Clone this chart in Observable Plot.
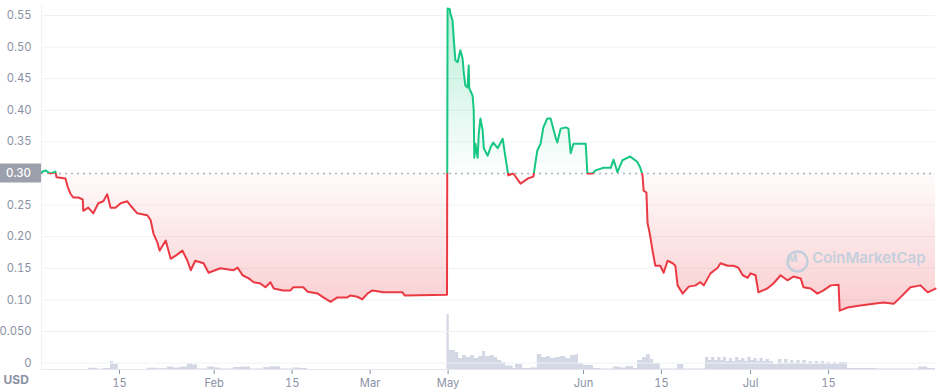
<!DOCTYPE html>
<html><head><meta charset="utf-8">
<script src="https://cdn.jsdelivr.net/npm/d3@7"></script>
<script src="https://cdn.jsdelivr.net/npm/@observablehq/plot@0.6"></script>
<style>
html,body{margin:0;padding:0;background:#fff;}
#wrap{position:relative;width:940px;height:392px;font-family:Inter,"Noto Sans",sans-serif;background:#fff;}
#wrap svg{position:absolute;left:0;top:0;}
</style></head><body><div id="wrap"></div>
<script>
// x positions are chart-day positions (Jan 1 = 0) as laid out on the source axis
const xTickDays = [14, 31, 45, 59, 73, 97.3, 111.3, 127.3, 141.3];
const xTickLabels = ["15", "Feb", "15", "Mar", "May", "Jun", "15", "Jul", "15"];
const yTicks = [0, 0.05, 0.1, 0.15, 0.2, 0.25, 0.3, 0.35, 0.4, 0.45, 0.5, 0.55];
const yTickLabels = ["0", "0.050", "0.10", "0.15", "0.20", "0.25", "0.30", "0.35", "0.40", "0.45", "0.50", "0.55"];
const openPrice = 0.30;
const currency = "USD";
const watermark = "CoinMarketCap";

// [day, price USD]
const priceSeries = [
[0,0.302],[0.7,0.305],[1.6,0.300],[2.5,0.303],[2.7,0.294],[4.3,0.292],[4.7,0.279],[5.2,0.268],[5.7,0.262],[6.6,0.262],
[7.4,0.259],[7.5,0.241],[8.4,0.246],[9.3,0.237],[10.2,0.253],[11.1,0.256],[11.8,0.267],[12.4,0.246],[13.3,0.246],[14.2,0.253],
[15.4,0.256],[16.0,0.249],[17.2,0.237],[19.0,0.234],[19.6,0.226],[20.1,0.205],[20.8,0.191],[21.2,0.178],[22.3,0.194],[23.2,0.165],
[24.1,0.170],[25.3,0.178],[26.2,0.162],[26.8,0.147],[27.6,0.162],[29.1,0.158],[30.0,0.143],[32.1,0.150],[34.5,0.147],[35.2,0.151],
[36.1,0.139],[37.2,0.134],[38.1,0.128],[39.3,0.126],[40.2,0.120],[41.1,0.128],[41.7,0.118],[43.4,0.115],[44.7,0.115],[45.2,0.120],
[47.0,0.120],[47.8,0.113],[49.6,0.110],[50.6,0.104],[51.9,0.097],[53.1,0.104],[54.9,0.104],[55.5,0.107],[56.7,0.105],[57.6,0.101],
[58.5,0.110],[59.4,0.115],[61.4,0.112],[64.8,0.112],[65.2,0.107],[72.8,0.108],[72.9,0.561],[73.3,0.560],[73.4,0.553],[73.8,0.542],
[74.0,0.515],[74.3,0.479],[74.7,0.476],[75.2,0.495],[75.6,0.482],[75.8,0.460],[76.1,0.439],[76.5,0.436],[76.7,0.471],[76.8,0.435],
[77.4,0.423],[77.6,0.400],[77.7,0.325],[77.9,0.347],[78.3,0.325],[78.5,0.363],[78.8,0.387],[79.2,0.368],[79.4,0.340],[80.1,0.328],
[80.6,0.341],[81.1,0.349],[81.9,0.340],[82.8,0.355],[83.3,0.325],[83.8,0.297],[84.7,0.300],[86.0,0.284],[87.3,0.292],[88.3,0.295],
[89.0,0.336],[89.6,0.347],[90.1,0.373],[90.8,0.387],[91.4,0.387],[92.3,0.357],[92.6,0.349],[93.2,0.371],[94.1,0.373],[94.6,0.371],
[95.0,0.332],[95.5,0.347],[96.8,0.347],[97.7,0.347],[98.0,0.300],[98.9,0.300],[99.5,0.305],[100.9,0.309],[102.2,0.309],[102.7,0.322],
[103.4,0.302],[104.3,0.321],[105.7,0.327],[107.0,0.318],[107.5,0.309],[107.9,0.297],[108.1,0.273],[108.6,0.270],[108.8,0.222],[109.2,0.205],
[109.7,0.178],[110.2,0.154],[111.1,0.154],[111.7,0.143],[112.4,0.162],[113.3,0.158],[113.8,0.154],[114.2,0.123],[115.1,0.110],[116.2,0.121],
[117.4,0.123],[118.3,0.128],[118.9,0.123],[120.1,0.142],[121.4,0.151],[121.9,0.158],[123.2,0.154],[124.2,0.154],[125.1,0.151],[125.9,0.139],
[126.8,0.135],[127.3,0.142],[128.2,0.139],[128.7,0.112],[130.3,0.118],[131.4,0.126],[132.7,0.139],[133.9,0.131],[135.0,0.137],[136.3,0.134],
[136.8,0.120],[138.1,0.118],[139.3,0.110],[140.4,0.115],[141.7,0.123],[143.1,0.124],[143.3,0.083],[144.7,0.088],[147.0,0.091],[149.4,0.094],
[151.2,0.096],[153.0,0.094],[154.2,0.104],[156.0,0.120],[157.8,0.123],[159.1,0.112],[160.5,0.118]
];

// [day, volume (relative units)]
const volumeSeries = [
[0,0],[8.4,1.3],[10.1,0.3],[11.0,1],[12.4,8],[12.9,5.5],[13.8,0],
[19.0,1.2],[20.8,0.8],[22.6,2.5],[23.7,1.5],[25.0,2.5],[26.2,5.7],[27.1,4.5],[28.0,0.5],[29.8,2.5],[31.1,1.5],[32.1,0.5],
[34.5,2],[35.7,2.5],[37.5,0.5],[39.9,2],[41.1,2.7],[42.9,0.5],[45.2,1.5],[46.5,1],[47.8,0],
[72.8,55],[73.2,19],[74.3,17],[74.9,11],[75.6,14],[76.3,12],[77.0,14],[77.7,11],[78.5,13],[79.2,18],[79.7,13],[80.6,14],
[81.3,12],[81.9,9],[82.6,7],[83.3,3.5],[84.7,1],[85.1,5],[86.4,1],[87.8,1.5],
[89.0,15],[89.8,12],[90.7,13],[91.4,11],[92.3,12],[93.2,13],[94.1,11],[95.0,14],[95.9,15],[96.4,6],[97.3,4],[99.1,1],
[100.4,0.5],[102.7,2.5],[103.9,1.5],[105.0,3],[106.3,1],[107.0,9],[107.9,12],[108.6,15],[109.3,10],[109.9,6],[111.1,0.5],
[114.2,5],[115.3,0.5],
[119.2,12],[119.8,9],[120.3,12],[120.9,9],[121.4,12],[122.0,9],[122.4,12],[123.0,8],[123.5,11],[124.1,8],[124.6,12],[125.2,9],
[125.7,11],[126.3,8],[126.8,12],[127.4,9],[127.9,11],[128.5,8],[129.0,11],[129.6,8],[130.1,10],[130.7,8],
[131.4,5],[132.3,10],[132.9,6],[133.4,10],[134.0,6],[134.5,9],[135.1,6],[135.6,9],[136.2,6],[136.7,9],[137.3,5],[137.8,8],
[138.4,5],[138.9,8],[139.5,5],[140.0,8],[140.6,5],[141.1,7],[141.7,5],[142.2,7],[142.8,5],[143.3,7],[144.0,7],
[144.7,1],[150.0,0.5],[154.2,0.5],[157.5,2.5],[159.1,1],[160.5,1]
];

const W = 940, H = 392;
const M = {top: 5, right: 5, bottom: 23, left: 41};
const xDomain = [0, 160.5];
const priceDomain = [-0.0101, 0.5658];
const volDomain = [0, 69];

const GREEN = "#16c784", RED = "#ea3943", GRID = "#eff2f5", AXIS = "#8a91a5";

const price = priceSeries.map(([t, p]) => ({t, p}));
const volume = volumeSeries.map(([t, v]) => ({t, v}));

const wrap = document.getElementById("wrap");

// Volume layer (own y scale), drawn underneath
const volChart = Plot.plot({
  width: W, height: H,
  marginTop: 300, marginBottom: M.bottom, marginLeft: M.left, marginRight: M.right,
  style: {background: "transparent", overflow: "visible"},
  x: {domain: xDomain, axis: null},
  y: {domain: volDomain, axis: null},
  marks: [
    Plot.areaY(volume, {x: "t", y: "v", curve: "step-after", fill: "#d3d8e4"})
  ]
});
wrap.appendChild(volChart);

const priceChart = Plot.plot({
  width: W, height: H,
  marginTop: M.top, marginBottom: M.bottom, marginLeft: M.left, marginRight: M.right,
  style: {background: "transparent", overflow: "visible", fontFamily: "Inter, 'Noto Sans', sans-serif", fontSize: "11.2px", color: AXIS},
  x: {domain: xDomain, ticks: xTickDays, tickFormat: d => xTickLabels[xTickDays.indexOf(d)], tickSize: 5, tickPadding: 5, label: null},
  y: {domain: priceDomain, ticks: yTicks, tickFormat: d => d === openPrice ? "" : yTickLabels[yTicks.indexOf(d)], tickSize: 0, tickPadding: 10, label: null},
  marks: [
    Plot.ruleY(yTicks.filter(d => d !== openPrice), {stroke: GRID}),
    Plot.ruleX([xDomain[0]], {stroke: GRID}),
    Plot.ruleY([priceDomain[0]], {stroke: "#e4e7ee"}),
    Plot.areaY(price, {x: "t", y1: () => openPrice, y2: "p", fill: "url(#cmcArea)"}),
    Plot.ruleY([openPrice], {stroke: "#a9aebb", strokeDasharray: "2,4", strokeWidth: 1.3}),
    Plot.line(price, {x: "t", y: "p", stroke: "url(#cmcLine)", strokeWidth: 2}),
    Plot.text([currency], {text: d => d, frameAnchor: "bottom-left", dx: -38, dy: 14, textAnchor: "start", fontWeight: 700, fontSize: 12, fill: AXIS}),
    Plot.dot([watermark], {frameAnchor: "bottom-right", dx: -138, dy: -108, r: 10, stroke: "#c3cfdd", strokeWidth: 2.5, fill: "none"}),
    Plot.text(["M"], {text: d => d, frameAnchor: "bottom-right", dx: -138, dy: -108, fontSize: 11, fontWeight: 700, fill: "#c3cfdd"}),
    Plot.text([watermark], {text: d => d, frameAnchor: "bottom-right", dx: -10, dy: -107, textAnchor: "end", fontSize: 15, fontWeight: 600, fill: "#c3cfdd"})
  ]
});
wrap.appendChild(priceChart);

// y mapping of the price plot, to place gradient stops and the current-price badge
let ys;
try { const s = priceChart.scale("y"); ys = s && s.apply ? (v => s.apply(v)) : null; } catch (e) { ys = null; }
if (!ys) { const lin = d3.scaleLinear(priceDomain, [H - M.bottom, M.top]); ys = v => lin(v); }

const svgSel = d3.select(priceChart);
const plotTop = M.top, plotBot = H - M.bottom;
const yOpen = ys(openPrice);
const off = v => Math.max(0, Math.min(1, (ys(v) - plotTop) / (plotBot - plotTop)));
const defs = svgSel.insert("defs", ":first-child");

const lg = defs.append("linearGradient").attr("id", "cmcLine").attr("gradientUnits", "userSpaceOnUse")
  .attr("x1", 0).attr("x2", 0).attr("y1", plotTop).attr("y2", plotBot);
lg.append("stop").attr("offset", 0).attr("stop-color", GREEN);
lg.append("stop").attr("offset", off(openPrice)).attr("stop-color", GREEN);
lg.append("stop").attr("offset", off(openPrice)).attr("stop-color", RED);
lg.append("stop").attr("offset", 1).attr("stop-color", RED);

const ag = defs.append("linearGradient").attr("id", "cmcArea").attr("gradientUnits", "userSpaceOnUse")
  .attr("x1", 0).attr("x2", 0).attr("y1", plotTop).attr("y2", plotBot);
ag.append("stop").attr("offset", off(0.56)).attr("stop-color", GREEN).attr("stop-opacity", 0.3);
ag.append("stop").attr("offset", off(openPrice)).attr("stop-color", GREEN).attr("stop-opacity", 0.01);
ag.append("stop").attr("offset", off(openPrice)).attr("stop-color", RED).attr("stop-opacity", 0.02);
ag.append("stop").attr("offset", off(0.08)).attr("stop-color", RED).attr("stop-opacity", 0.25);
ag.append("stop").attr("offset", 1).attr("stop-color", RED).attr("stop-opacity", 0.27);

// current/open price badge on the y axis
const badge = svgSel.append("g");
badge.append("rect").attr("x", 0).attr("y", yOpen - 9.5).attr("width", M.left).attr("height", 19).attr("fill", "#9ba0ac");
badge.append("text").attr("x", M.left - 10).attr("y", yOpen).attr("dy", "0.35em").attr("text-anchor", "end")
  .attr("fill", "#fff").attr("font-size", "11.5px").attr("font-weight", 500)
  .text(yTickLabels[yTicks.indexOf(openPrice)]);
</script>
</body></html>
